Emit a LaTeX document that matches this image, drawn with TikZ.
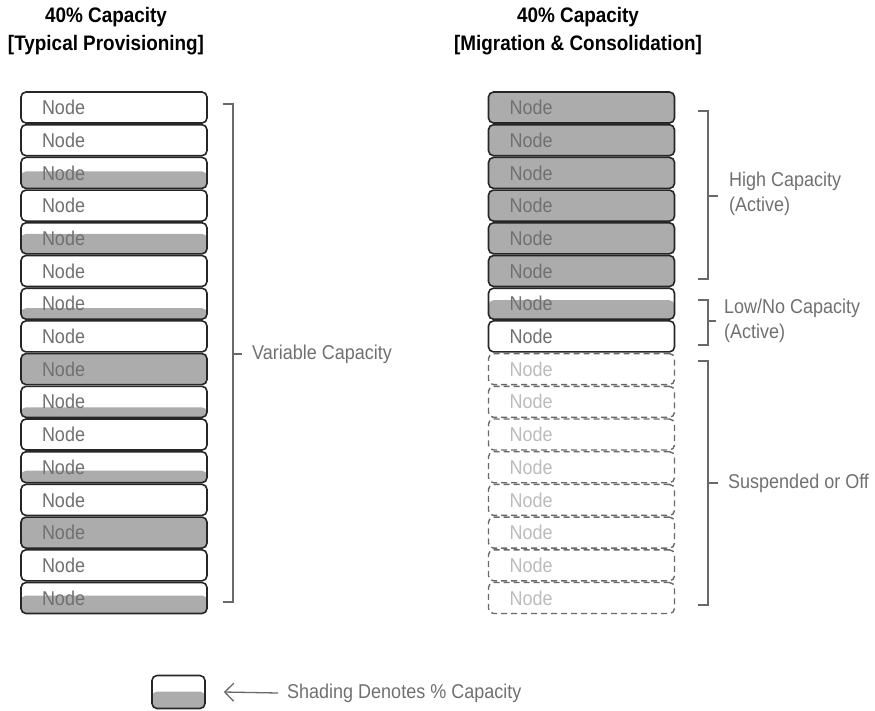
\documentclass[tikz,border=0pt]{standalone}
\usepackage{fontspec}
\setmainfont[FakeStretch=0.9]{Liberation Sans}
\usetikzlibrary{positioning,calc,arrows.meta}
\definecolor{shadegrey}{RGB}{172, 172, 172}
\definecolor{framegrey}{RGB}{38, 38, 38}
\definecolor{textgrey}{RGB}{112, 112, 112}
\definecolor{offgrey}{RGB}{188, 188, 188}
\definecolor{bracegrey}{RGB}{105, 105, 105}

\begin{document}
\begin{tikzpicture}[x=1pt, y=-1pt,
server/.style ={rectangle, draw=framegrey, line width=1.6pt, rounded corners=5pt, fill=white,
  minimum height=31pt, text width=144pt, inner xsep=21pt, inner ysep=0pt, align=left,
  text=textgrey, font=\fontsize{20}{22}\selectfont},
load/.style ={path picture={\fill[shadegrey] ([yshift=-3pt]path picture bounding box.south west)
  rectangle ([yshift=#1]path picture bounding box.south east);}},
off/.style ={server, draw=bracegrey, line width=1.4pt, dash pattern=on 6pt off 4pt, text=offgrey},
header/.style ={align=center, font=\fontsize{21}{28}\selectfont\bfseries},
note/.style ={anchor=west, inner sep=0pt, align=left, text=textgrey, font=\fontsize{20}{25}\selectfont},
brace/.style ={-,draw=bracegrey, line width=1.5pt},
pointer/.style ={{Straight Barb[length=9pt,width=18pt]}-, draw=bracegrey, line width=1.3pt},
]
\useasboundingbox (0,0) rectangle (875,710);

% headers
\node (HEADL) [header] at (106,31) {40\% Capacity\\{[}Typical Provisioning{]}};
\node (HEADR) [header] at (578,31) {40\% Capacity\\{[}Migration \& Consolidation{]}};

% typical provisioning, shading height in pt
\foreach \i/\lvl in {1/0pt,2/0pt,3/17pt,4/0pt,5/20pt,6/0pt,7/11pt,8/0pt,9/40pt,10/10pt,11/0pt,12/12pt,13/0pt,14/40pt,15/0pt,16/18pt}
  \node (TYP\i) [server, load=\lvl] at (114,{107.5+(\i-1)*32.7}) {Node};

% migration and consolidation
\foreach \i/\lvl in {1/40pt,2/40pt,3/40pt,4/40pt,5/40pt,6/40pt,7/19pt,8/0pt}
  \node (MIG\i) [server, load=\lvl] at (581.5,{107.5+(\i-1)*32.7}) {Node};
\foreach \i in {9,...,16}
  \node (MIG\i) [off] at (581.5,{107.5+(\i-1)*32.7}) {Node};

% brackets
\node (VAR) [note] at (252,354) {Variable Capacity};
\draw[brace] (223,104) -- (233,104) -- (233,602) -- (223,602);
\draw[brace] (233,354) -- ($(VAR.west)+(-10,0)$);

\node (HIGH) [note] at (729,194) {High Capacity\\(Active)};
\draw[brace] (698,111) -- (708,111) -- (708,279) -- (698,279);
\draw[brace] (708,196) -- ($(HIGH.west)+(-11,2)$);

\node (LOW) [note] at (724,321) {Low/No Capacity\\(Active)};
\draw[brace] (698,300) -- (708,300) -- (708,345) -- (698,345);
\draw[brace] (708,321) -- ($(LOW.west)+(-8,0)$);

\node (SUSP) [note] at (728,483) {Suspended or Off};
\draw[brace] (698,361) -- (708,361) -- (708,605) -- (698,605);
\draw[brace] (708,483) -- ($(SUSP.west)+(-10,0)$);

% legend
\node (LEGEND) [server, load=17pt, minimum width=53pt, minimum height=33pt, text width=0pt, inner xsep=0pt] at (178.5,692) {};
\node (LEGTXT) [note] at (287,693) {Shading Denotes \% Capacity};
\draw[pointer] ([xshift=18pt]LEGEND.east) -- ([xshift=-9pt]LEGTXT.west);

\end{tikzpicture}
\end{document}
